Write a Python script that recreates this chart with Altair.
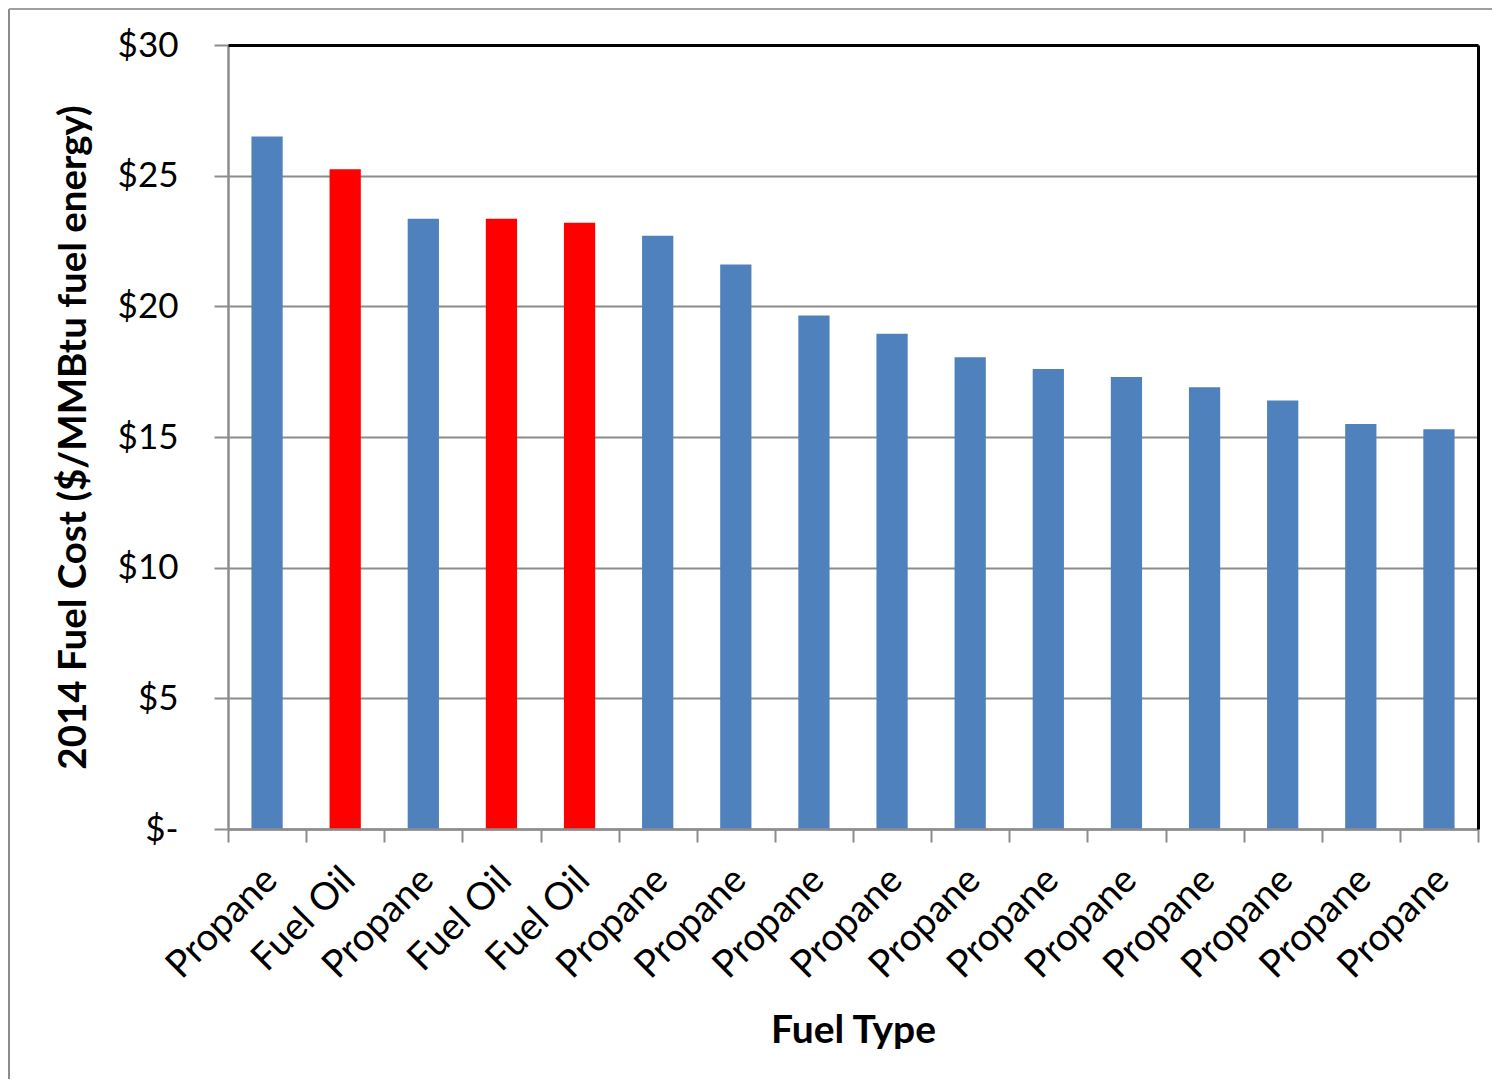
import altair as alt
import pandas as pd

fuel_types = ["Propane", "Fuel Oil", "Propane", "Fuel Oil", "Fuel Oil", "Propane",
              "Propane", "Propane", "Propane", "Propane", "Propane", "Propane",
              "Propane", "Propane", "Propane", "Propane"]
costs = [26.5, 25.25, 23.35, 23.35, 23.2, 22.7, 21.6, 19.65, 18.95, 18.05,
         17.6, 17.3, 16.9, 16.4, 15.5, 15.3]
y_ticks = [0, 5, 10, 15, 20, 25, 30]
color_domain = ["Propane", "Fuel Oil"]
color_range = ["#4F81BD", "#FF0000"]

df = pd.DataFrame({"idx": list(range(len(fuel_types))), "fuel": fuel_types, "cost": costs})

label_expr = "[" + ",".join("'" + n + "'" for n in fuel_types) + "][datum.value]"

W, H = 1250, 784
FONT = "Lato"
GRAY = "#8C8C8C"

x_enc = alt.X(
    "idx:O",
    scale=alt.Scale(paddingInner=0, paddingOuter=0),
    axis=alt.Axis(
        title="Fuel Type",
        labelExpr=label_expr,
        labelAngle=-45,
        labelAlign="right",
        labelBaseline="middle",
        labelFont=FONT,
        labelFontSize=38,
        labelColor="black",
        labelPadding=32,
        labelOffset=4,
        tickBand="extent",
        tickColor=GRAY,
        tickWidth=2,
        tickSize=13,
        domainColor=GRAY,
        domainWidth=2.5,
        titleFont=FONT,
        titleFontSize=39,
        titleFontWeight="bold",
        titleColor="black",
        titleX=W / 2,
        titleY=213,
        titleAlign="center",
        titleBaseline="alphabetic",
        zindex=1,
    ),
)

y_enc = alt.Y(
    "cost:Q",
    scale=alt.Scale(domain=[0, 30], nice=False, zero=True),
    axis=alt.Axis(
        values=y_ticks,
        labelExpr="datum.value == 0 ? '$-' : '$' + datum.value",
        title="2014 Fuel Cost ($/MMBtu fuel energy)",
        titleFont=FONT,
        titleFontSize=38.5,
        titleFontWeight="bold",
        titleColor="black",
        titleAngle=-90,
        titleX=-143,
        titleY=H / 2,
        titleAlign="center",
        titleBaseline="alphabetic",
        grid=True,
        gridColor=GRAY,
        gridWidth=2,
        domainColor=GRAY,
        domainWidth=2.5,
        tickColor=GRAY,
        tickWidth=2,
        tickSize=14,
        labelPadding=36,
        labelFont=FONT,
        labelFontSize=35,
        labelColor="black",
    ),
)

bars = alt.Chart(df).mark_bar(width=alt.RelativeBandSize(0.4)).encode(
    x=x_enc,
    y=y_enc,
    color=alt.Color("fuel:N", scale=alt.Scale(domain=color_domain, range=color_range), legend=None),
)

frame = alt.Chart(df).mark_point(opacity=0).encode(
    x=alt.X("idx:O", axis=alt.Axis(orient="top", labels=False, ticks=False, grid=False,
                                   domainColor="black", domainWidth=3, title=None, zindex=1)),
    y=alt.Y("cost:Q", axis=alt.Axis(orient="right", labels=False, ticks=False, grid=False,
                                    domainColor="black", domainWidth=3, title=None, zindex=1)),
)

outer = alt.Chart(alt.Data(values=[{"a": 1}])).mark_rule(color="#8C8C8C", strokeWidth=2).encode(
    x=alt.value(-219), y=alt.value(-36), y2=alt.value(1040)
)
outer_top = alt.Chart(alt.Data(values=[{"a": 1}])).mark_rule(color="#A0A0A0", strokeWidth=2).encode(
    x=alt.value(-219), x2=alt.value(1270), y=alt.value(-36)
)

chart = alt.layer(bars, frame, outer, outer_top).resolve_axis(
    x="independent", y="independent"
).properties(
    width=W,
    height=H,
    padding={"left": 220, "top": 37, "right": 14, "bottom": 250},
    autosize="none",
).configure_view(stroke=None)

chart.save("out.html", embed_options={"renderer": "svg", "actions": False})
